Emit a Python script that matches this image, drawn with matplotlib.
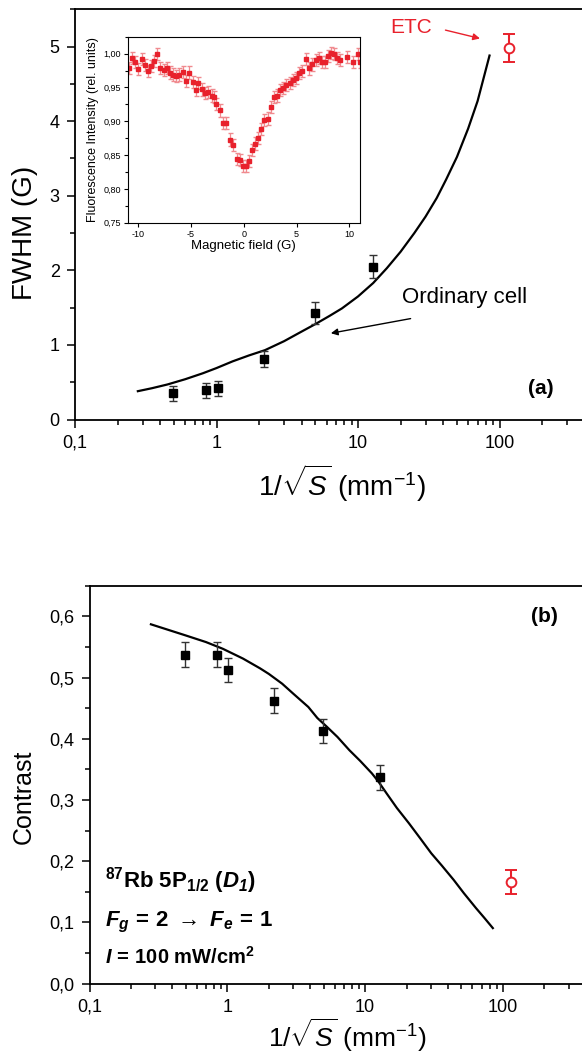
import matplotlib
matplotlib.use("Agg")
import matplotlib.pyplot as plt
from matplotlib.ticker import FuncFormatter, MultipleLocator, LogLocator, NullFormatter

plt.rcParams['font.family'] = ['Liberation Sans', 'DejaVu Sans']
plt.rcParams['mathtext.fontset'] = 'custom'
plt.rcParams['mathtext.rm'] = 'Liberation Sans'
plt.rcParams['mathtext.it'] = 'Liberation Sans:italic'
plt.rcParams['mathtext.bf'] = 'Liberation Sans:bold'
plt.rcParams['mathtext.bfit'] = 'Liberation Sans:italic:bold'
plt.rcParams['mathtext.sf'] = 'Liberation Sans'

RED = '#e8212c'

# (a) FWHM vs 1/sqrt(S)
fwhm_x = [0.495, 0.845, 1.025, 2.18, 4.95, 12.8]
fwhm_y = [0.355, 0.395, 0.42, 0.81, 1.43, 2.05]
fwhm_err = [0.10, 0.10, 0.10, 0.11, 0.15, 0.15]
etc_fwhm_x = [116]
etc_fwhm_y = [4.98]
etc_fwhm_err = [0.19]
fwhm_curve_x = [0.278, 0.35, 0.45, 0.6, 0.8, 1.0, 1.3, 1.7, 2.2, 3.0, 4.0, 5.0,
                6.3, 7.7, 10, 12.8, 16, 20, 25, 30, 36, 42, 50, 60, 70, 85]
fwhm_curve_y = [0.38, 0.42, 0.47, 0.54, 0.62, 0.69, 0.78, 0.86, 0.93, 1.05,
                1.18, 1.28, 1.39, 1.49, 1.65, 1.83, 2.03, 2.25, 2.50, 2.72,
                2.97, 3.22, 3.52, 3.90, 4.27, 4.88]

# inset: fluorescence vs magnetic field
field = [-10.85, -10.63, -10.28, -10.0, -9.68, -9.37, -9.05, -8.8, -8.52, -8.2,
         -7.9, -7.57, -7.3, -7.0, -6.7, -6.4, -6.1, -5.8, -5.5, -5.2,
         -4.86, -4.54, -4.3, -4.0, -3.7, -3.4, -3.06, -2.8, -2.6, -2.27,
         -1.96, -1.64, -1.32, -1.0, -0.69, -0.38, -0.06, 0.19, 0.5, 0.76,
         1.07, 1.39, 1.67, 1.96, 2.27, 2.56, 2.87, 3.15, 3.4, 3.72,
         4.04, 4.35, 4.67, 4.98, 5.24, 5.55, 5.87, 6.18, 6.5, 6.8,
         7.13, 7.44, 7.67, 7.98, 8.3, 8.55, 8.86, 9.15, 9.8, 10.35,
         10.8, 11.0]
fluor = [0.979, 0.993, 0.988, 0.977, 0.992, 0.983, 0.974, 0.982, 0.989, 1.000,
         0.979, 0.976, 0.979, 0.972, 0.969, 0.967, 0.969, 0.973, 0.959, 0.972,
         0.958, 0.946, 0.956, 0.947, 0.942, 0.943, 0.938, 0.936, 0.926, 0.916,
         0.897, 0.897, 0.873, 0.865, 0.844, 0.843, 0.834, 0.834, 0.841, 0.858,
         0.867, 0.875, 0.888, 0.902, 0.904, 0.921, 0.936, 0.938, 0.946, 0.949,
         0.954, 0.957, 0.961, 0.964, 0.971, 0.974, 0.992, 0.978, 0.984, 0.990,
         0.994, 0.987, 0.987, 0.996, 1.001, 0.999, 0.993, 0.991, 0.995, 0.988,
         0.999, 0.988]

# (b) contrast vs 1/sqrt(S)
contrast_x = [0.496, 0.847, 1.02, 2.17, 4.97, 12.8]
contrast_y = [0.5375, 0.5375, 0.512, 0.4625, 0.4125, 0.337]
contrast_err = [0.02, 0.02, 0.02, 0.02, 0.02, 0.02]
etc_contrast_x = [115]
etc_contrast_y = [0.166]
etc_contrast_err = [0.02]
contrast_curve_x = [0.279, 0.496, 0.7, 0.928, 1.3, 1.73, 2.0, 2.5, 3.0, 3.87,
                    4.5, 5.28, 6.3, 7.68, 9.2, 11.2, 12.5, 14.3, 17, 20.8,
                    25, 30.2, 36, 43.9, 52, 63.8, 73, 84.5]
contrast_curve_y = [0.587, 0.569, 0.558, 0.547, 0.531, 0.515, 0.506, 0.490,
                    0.474, 0.452, 0.434, 0.4196, 0.403, 0.3815, 0.364, 0.3435,
                    0.330, 0.311, 0.287, 0.262, 0.238, 0.213, 0.193, 0.1696,
                    0.148, 0.1234, 0.108, 0.0908]

comma = FuncFormatter(lambda v, p: f'{v:g}'.replace('.', ',') if v < 500 else '')
xlabel = r'$1/\sqrt{S}$ (mm$^{-1}$)'


def style_main(ax):
    ax.set_xscale('log')
    ax.set_xlim(0.1, 1000)
    ax.xaxis.set_major_locator(LogLocator(base=10))
    ax.xaxis.set_minor_locator(LogLocator(base=10, subs=range(2, 10)))
    ax.xaxis.set_minor_formatter(NullFormatter())
    ax.xaxis.set_major_formatter(comma)
    ax.tick_params(which='both', direction='out', top=False, right=False, width=1.1)
    ax.tick_params(which='major', length=6, labelsize=13, pad=5)
    ax.tick_params(which='minor', length=3.5)
    for s in ax.spines.values():
        s.set_linewidth(1.3)


fig = plt.figure(figsize=(5.82, 10.57), dpi=100)

# ---- panel (a)
ax1 = fig.add_axes([0.1289, 0.6031, 0.9725, 0.3881])
style_main(ax1)
ax1.set_ylim(0, 5.5)
ax1.yaxis.set_major_locator(MultipleLocator(1))
ax1.yaxis.set_minor_locator(MultipleLocator(0.5))
ax1.yaxis.set_major_formatter(FuncFormatter(lambda v, p: f'{v:.0f}'))
ax1.plot(fwhm_curve_x, fwhm_curve_y, color='black', lw=1.6)
ax1.errorbar(fwhm_x, fwhm_y, yerr=fwhm_err, fmt='s', color='black', ms=6,
             ecolor='#333333', elinewidth=1, capsize=3)
ax1.errorbar(etc_fwhm_x, etc_fwhm_y, yerr=etc_fwhm_err, fmt='o', mfc='white',
             mec=RED, color=RED, ms=7, mew=1.4, elinewidth=1.5, capsize=4, capthick=1.5)
ax1.text(17.0, 5.26, 'ETC', color=RED, fontsize=15, va='center')
ax1.annotate('', xy=(76, 5.10), xytext=(39.7, 5.23),
             arrowprops=dict(arrowstyle='-|>', color=RED, lw=1, mutation_scale=10))
ax1.text(20.3, 1.64, 'Ordinary cell', fontsize=16, va='center')
ax1.annotate('', xy=(6.15, 1.15), xytext=(24.6, 1.36),
             arrowprops=dict(arrowstyle='-|>', color='black', lw=1, mutation_scale=10))
ax1.text(240, 0.42, '(a)', fontsize=15, fontweight='bold', ha='right', va='center')
ax1.set_ylabel('FWHM (G)', fontsize=20)
ax1.yaxis.set_label_coords(-0.066, 0.455)
ax1.set_xlabel(xlabel, fontsize=20)
ax1.xaxis.set_label_coords(0.472, -0.105)

# ---- inset
ins = fig.add_axes([0.2194, 0.7893, 0.399, 0.176])
ins.errorbar(field, fluor, yerr=0.009, fmt='s', color=RED, ms=3.4,
             ecolor='#f08a8f', elinewidth=0.9, capsize=1.8)
ins.set_xlim(-11, 11)
ins.set_ylim(0.75, 1.025)
ins.xaxis.set_major_locator(MultipleLocator(5))
ins.yaxis.set_major_locator(MultipleLocator(0.05))
ins.yaxis.set_minor_locator(MultipleLocator(0.025))
ins.xaxis.set_major_formatter(FuncFormatter(lambda v, p: f'{v:.0f}'))
ins.yaxis.set_major_formatter(FuncFormatter(lambda v, p: f'{v:.2f}'.replace('.', ',')))
ins.tick_params(which='both', direction='out', top=False, right=False, width=0.8)
ins.tick_params(which='major', length=3, labelsize=6.5, pad=2)
ins.tick_params(which='minor', length=2)
for s in ins.spines.values():
    s.set_linewidth(0.8)
ins.set_xlabel('Magnetic field (G)', fontsize=9.5, labelpad=1)
ins.set_ylabel('Fluorescence Intensity (rel. units)', fontsize=9, labelpad=3)

# ---- panel (b)
ax2 = fig.add_axes([0.1538, 0.06935, 0.9471, 0.3765])
style_main(ax2)
ax2.set_ylim(0, 0.65)
ax2.yaxis.set_major_locator(MultipleLocator(0.1))
ax2.yaxis.set_minor_locator(MultipleLocator(0.05))
ax2.yaxis.set_major_formatter(FuncFormatter(lambda v, p: f'{v:.1f}'.replace('.', ',')))
ax2.plot(contrast_curve_x, contrast_curve_y, color='black', lw=1.6)
ax2.errorbar(contrast_x, contrast_y, yerr=contrast_err, fmt='s', color='black', ms=6,
             ecolor='#333333', elinewidth=1, capsize=3)
ax2.errorbar(etc_contrast_x, etc_contrast_y, yerr=etc_contrast_err, fmt='o', mfc='white',
             mec=RED, color=RED, ms=7, mew=1.4, elinewidth=1.5, capsize=4, capthick=1.5)
ax2.text(250, 0.60, '(b)', fontsize=15, fontweight='bold', ha='right', va='center')
ax2.text(0.028, 0.2405,
         r'$^{\mathbf{87}}\mathbf{Rb\ 5P}_{\mathbf{1/2}}\ \mathbf{(}\mathbfit{D}_{\mathbfit{1}}\mathbf{)}$',
         transform=ax2.transAxes, fontsize=16, va='baseline')
ax2.text(0.028, 0.145,
         r'$\mathbfit{F}_{\mathbfit{g}}\,\mathbf{=}\,\mathbf{2}\ \mathbf{\rightarrow}\ \mathbfit{F}_{\mathbfit{e}}\,\mathbf{=}\,\mathbf{1}$',
         transform=ax2.transAxes, fontsize=16, va='baseline')
ax2.text(0.028, 0.0495,
         r'$\mathbfit{I}\,\mathbf{=}\,\mathbf{100\ mW/cm}^{\mathbf{2}}$',
         transform=ax2.transAxes, fontsize=14.5, va='baseline')
ax2.set_ylabel('Contrast', fontsize=18)
ax2.yaxis.set_label_coords(-0.097, 0.47)
ax2.set_xlabel(xlabel, fontsize=19)
ax2.xaxis.set_label_coords(0.467, -0.082)

fig.savefig('out.png', dpi=100)
